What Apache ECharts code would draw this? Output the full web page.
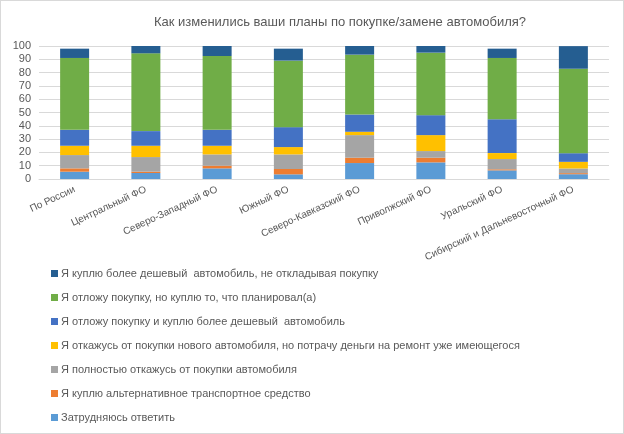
<!DOCTYPE html>
<html>
<head>
<meta charset="utf-8">
<title>Планы по покупке автомобиля</title>
<script src="https://cdn.jsdelivr.net/npm/echarts@6/dist/echarts.min.js"></script>
<style>
html,body{margin:0;padding:0;background:#fff;}
#main{width:624px;height:434px;box-sizing:border-box;border:1px solid #d9d9d9;}
</style>
</head>
<body>
<div id="main"></div>
<script>
// категории (округа)
var regions = ['По России', 'Центральный ФО', 'Северо-Западный ФО', 'Южный ФО',
  'Северо-Кавказский ФО', 'Приволжский ФО', 'Уральский ФО', 'Сибирский и Дальневосточный ФО'];

// значения, % (снизу вверх по стопке)
var hardToSay    = [5.5, 4.5, 8,   3.5, 12, 12.5, 6.5, 3.6];
var altTransport = [2.5, 1,   2,   4,   4,  3.5,  0.8, 0.8];
var giveUp       = [10,  11,  8.5, 11,  17, 5,    7.7, 3.5];
var repairOld    = [7,   8.5, 6.5, 5.5, 2.5, 12,  4.5, 5];
var postCheaper  = [12,  11,  12,  15,  13, 15,   25.5, 6.5];
var postSame     = [54,  58.5, 55.5, 50, 45, 47,  46, 63.5];
var cheaperNow   = [7,   5.5, 7.5, 9,   6.5, 5,   7,  17];

var names = [
  'Затрудняюсь ответить',
  'Я куплю альтернативное транспортное средство',
  'Я полностью откажусь от покупки автомобиля',
  'Я откажусь от покупки нового автомобиля, но потрачу деньги на ремонт уже имеющегося',
  'Я отложу покупку и куплю более дешевый  автомобиль',
  'Я отложу покупку, но куплю то, что планировал(а)',
  'Я куплю более дешевый  автомобиль, не откладывая покупку'
];
var values = [hardToSay, altTransport, giveUp, repairOld, postCheaper, postSame, cheaperNow];
var colors = ['#5b9bd5', '#ed7d31', '#a5a5a5', '#ffc000', '#4472c4', '#70ad47', '#255e91'];

var font = 'Liberation Sans';
var myChart = echarts.init(document.getElementById('main'));

var series = [];
for (var i = 0; i < names.length; i++) {
  series.push({
    name: names[i],
    type: 'bar',
    stack: 'all',
    barWidth: 29,
    itemStyle: { color: colors[i] },
    data: values[i]
  });
}

var option = {
  animation: false,
  color: colors,
  title: {
    text: 'Как изменились ваши планы по покупке/замене автомобиля?',
    left: 334,
    top: 10,
    textAlign: 'center',
    textStyle: { color: '#595959', fontSize: 13, fontWeight: 'normal', fontFamily: font }
  },
  legend: {
    orient: 'vertical',
    left: 50,
    top: 266,
    padding: 0,
    itemWidth: 7,
    itemHeight: 7,
    itemGap: 11,
    icon: 'rect',
    data: names.slice().reverse(),
    textStyle: { color: '#595959', fontSize: 11, fontFamily: font, padding: [0, 0, 0, -2], lineHeight: 13 }
  },
  grid: { left: 38, right: 14, top: 45, bottom: 254, containLabel: false },
  xAxis: {
    type: 'category',
    data: regions,
    axisLine: { lineStyle: { color: '#d9d9d9' } },
    axisTick: { show: false },
    axisLabel: { rotate: 25, color: '#595959', fontSize: 10, fontFamily: font, interval: 0, margin: 10 }
  },
  yAxis: {
    type: 'value',
    min: 0,
    max: 100,
    interval: 10,
    axisLine: { show: false },
    axisTick: { show: false },
    splitLine: { lineStyle: { color: '#d9d9d9' } },
    axisLabel: { color: '#595959', fontSize: 11, fontFamily: font, margin: 8 }
  },
  series: series
};
myChart.setOption(option);
</script>
</body>
</html>
